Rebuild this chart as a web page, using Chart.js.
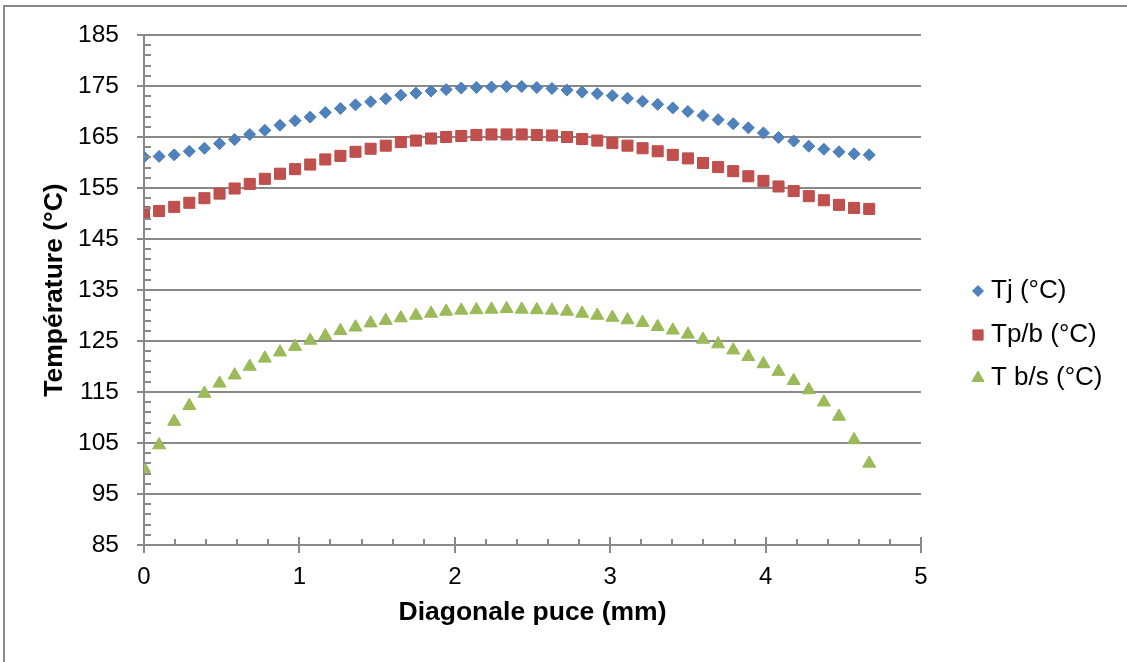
<!DOCTYPE html>
<html>
<head>
<meta charset="utf-8">
<title>Température le long de la diagonale</title>
<script src="https://cdn.jsdelivr.net/npm/chart.js@4/dist/chart.umd.min.js"></script>
<style>
  html, body { margin: 0; padding: 0; background: #fff; }
  #wrap { position: relative; width: 1127px; height: 662px; overflow: hidden; }
  canvas { position: absolute; left: 0; top: 0; }
</style>
</head>
<body>
<div id="wrap">
  <canvas id="tempChart" width="1127" height="662"></canvas>
</div>
<script>
// --- Data ---
const diagMm = [
  0, 0.0972, 0.1944, 0.2917, 0.3889, 0.4861, 0.5833, 0.6806, 0.7778, 0.875,
  0.9722, 1.0694, 1.1667, 1.2639, 1.3611, 1.4583, 1.5556, 1.6528, 1.75, 1.8472,
  1.9444, 2.0417, 2.1389, 2.2361, 2.3333, 2.4306, 2.5278, 2.625, 2.7222, 2.8194,
  2.9167, 3.0139, 3.1111, 3.2083, 3.3056, 3.4028, 3.5, 3.5972, 3.6944, 3.7917,
  3.8889, 3.9861, 4.0833, 4.1806, 4.2778, 4.375, 4.4722, 4.5694, 4.6667
];

const tj = [
  161.1, 161.2, 161.5, 162.2, 162.8, 163.7, 164.5, 165.5, 166.3, 167.3,
  168.2, 168.9, 169.8, 170.6, 171.3, 171.9, 172.5, 173.2, 173.6, 174.0,
  174.3, 174.6, 174.7, 174.8, 174.9, 174.9, 174.7, 174.5, 174.2, 173.8,
  173.5, 173.1, 172.6, 172.0, 171.4, 170.7, 170.0, 169.2, 168.4, 167.6,
  166.8, 165.8, 164.9, 164.2, 163.2, 162.6, 162.1, 161.7, 161.5
];

const tpb = [
  150.3, 150.5, 151.3, 152.1, 153.0, 153.9, 154.9, 155.8, 156.8, 157.8,
  158.7, 159.6, 160.6, 161.3, 162.1, 162.7, 163.3, 164.0, 164.3, 164.7,
  165.0, 165.2, 165.4, 165.5, 165.5, 165.5, 165.4, 165.3, 165.0, 164.6,
  164.3, 163.8, 163.3, 162.8, 162.2, 161.5, 160.8, 159.9, 159.1, 158.3,
  157.3, 156.4, 155.3, 154.4, 153.4, 152.6, 151.7, 151.1, 150.9
];

const tbs = [
  100.0, 104.6, 109.2, 112.3, 114.7, 116.7, 118.3, 120.0, 121.6, 122.8,
  123.9, 125.1, 126.0, 127.0, 127.7, 128.5, 129.0, 129.5, 130.0, 130.4,
  130.8, 131.0, 131.1, 131.2, 131.3, 131.2, 131.1, 131.0, 130.8, 130.4,
  130.0, 129.6, 129.1, 128.6, 127.8, 127.1, 126.3, 125.3, 124.4, 123.2,
  121.9, 120.5, 119.0, 117.2, 115.4, 113.0, 110.2, 105.6, 101.0
];

const seriesLabels = ['Tj (°C)', 'Tp/b (°C)', 'T b/s (°C)'];
const xTitle = 'Diagonale puce (mm)';
const yTitle = 'Température (°C)';

// --- Styling ---
const FONT = '"Liberation Sans", Arial, sans-serif';
const AXIS_GREY = '#898989';

const seriesStyles = [
  { pointStyle: 'rectRot', radius: 6, fill: '#4F81BD', border: '#4A7EBB', legendRadius: 5.5 },
  { pointStyle: 'rect', radius: 7.8, fill: '#C0504D', border: '#BE4B48', legendRadius: 7.2 },
  { pointStyle: 'triangle', radius: 7.5, fill: '#9BBB59', border: '#98B954', legendRadius: 7 }
];

function toPoints(xs, ys) {
  return xs.map((x, i) => ({ x, y: ys[i] }));
}

const datasets = [tj, tpb, tbs].map((ys, i) => ({
  label: seriesLabels[i],
  data: toPoints(diagMm, ys),
  pointStyle: seriesStyles[i].pointStyle,
  pointRadius: seriesStyles[i].radius,
  pointBackgroundColor: seriesStyles[i].fill,
  pointBorderColor: seriesStyles[i].border,
  pointBorderWidth: 1,
  showLine: false
}));

// --- Plugins: outer frame, minor ticks, legend ---
const frame = {
  id: 'frame',
  beforeDraw(chart) {
    const ctx = chart.ctx;
    ctx.save();
    ctx.fillStyle = '#fff';
    ctx.fillRect(0, 0, chart.width, chart.height);
    ctx.strokeStyle = AXIS_GREY;
    ctx.lineWidth = 2;
    ctx.strokeRect(4, 6, 1300, 900);
    ctx.restore();
  }
};

const minorTicks = {
  id: 'minorTicks',
  afterDatasetsDraw(chart) {
    const { ctx, scales: { x, y } } = chart;
    const x0 = x.getPixelForValue(0);
    const y0 = y.getPixelForValue(85);
    ctx.save();
    ctx.strokeStyle = AXIS_GREY;
    ctx.lineWidth = 2;
    ctx.beginPath();
    // y: every 2 °C, drawn inside the plot
    for (let v = 87; v < 185; v += 2) {
      if ((v - 85) % 10 === 0) continue;
      const py = Math.round(y.getPixelForValue(v));
      ctx.moveTo(x0, py);
      ctx.lineTo(x0 + 7, py);
    }
    // x: every 0.2 mm, drawn inside the plot; majors cross the axis
    for (let k = 1; k <= 25; k++) {
      const px = Math.round(x.getPixelForValue(k / 5));
      const len = k % 5 === 0 ? 8 : 6;
      ctx.moveTo(px, y0);
      ctx.lineTo(px, y0 - len);
    }
    ctx.stroke();
    ctx.restore();
  }
};

const sideLegend = {
  id: 'sideLegend',
  afterDraw(chart) {
    const ctx = chart.ctx;
    const rows = [291, 335, 378];
    ctx.save();
    ctx.font = '26px ' + FONT;
    ctx.textBaseline = 'middle';
    ctx.textAlign = 'left';
    seriesLabels.forEach((label, i) => {
      const st = seriesStyles[i];
      ctx.fillStyle = st.fill;
      ctx.strokeStyle = st.border;
      Chart.helpers.drawPoint(ctx, {
        pointStyle: st.pointStyle, radius: st.legendRadius, rotation: 0, borderWidth: 1
      }, 978, rows[i]);
      ctx.fillStyle = '#000';
      ctx.fillText(label, 991, rows[i]);
    });
    ctx.restore();
  }
};

// --- Chart ---
const ctx = document.getElementById('tempChart').getContext('2d');
new Chart(ctx, {
  type: 'scatter',
  data: { datasets },
  plugins: [frame, minorTicks, sideLegend],
  options: {
    responsive: false,
    animation: false,
    devicePixelRatio: 1,
    layout: { padding: { top: 35, right: 206, bottom: 0, left: 0 } },
    plugins: {
      legend: { display: false },
      tooltip: { enabled: false }
    },
    scales: {
      x: {
        type: 'linear',
        min: 0,
        max: 5,
        ticks: { stepSize: 1, color: '#000', padding: 10, font: { family: FONT, size: 24 } },
        grid: { drawOnChartArea: false, tickLength: 8, color: AXIS_GREY, lineWidth: 2 },
        border: { color: AXIS_GREY, width: 2 },
        title: {
          display: true,
          text: xTitle,
          color: '#000',
          font: { family: FONT, size: 26.5, weight: 'bold' },
          padding: { top: 0, bottom: 33 }
        },
        afterFit(scale) { scale.height = 117; }
      },
      y: {
        type: 'linear',
        min: 85,
        max: 185,
        ticks: { stepSize: 10, color: '#000', padding: 18, font: { family: FONT, size: 24.5 } },
        grid: { tickLength: 7, color: AXIS_GREY, lineWidth: 2 },
        border: { color: AXIS_GREY, width: 2 },
        title: {
          display: true,
          text: yTitle,
          color: '#000',
          font: { family: FONT, size: 26.5, weight: 'bold' },
          padding: { top: 39, bottom: 0 }
        },
        afterFit(scale) { scale.width = 144; }
      }
    }
  }
});
</script>
</body>
</html>
